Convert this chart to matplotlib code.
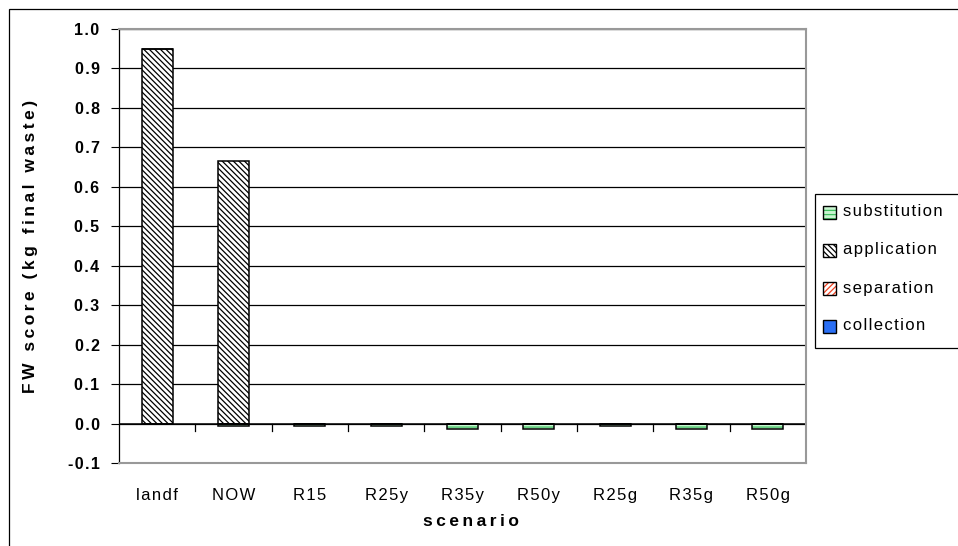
import matplotlib
matplotlib.use("Agg")
import matplotlib.pyplot as plt
import numpy as np
from matplotlib.patches import Rectangle

plt.rcParams['font.family'] = ['Liberation Sans', 'DejaVu Sans']
plt.rcParams['hatch.linewidth'] = 0.9

scenarios = ["landf", "NOW", "R15", "R25y", "R35y", "R50y", "R25g", "R35g", "R50g"]
collection = [0.0, 0.0, 0.0, 0.0, 0.0, 0.0, 0.0, 0.0, 0.0]
separation = [0.0, 0.0, 0.0, 0.0, 0.0, 0.0, 0.0, 0.0, 0.0]
application = [0.95, 0.665, 0.0, 0.0, 0.0, 0.0, 0.0, 0.0, 0.0]
substitution = [0.0, -0.006, -0.006, -0.006, -0.013, -0.013, -0.006, -0.013, -0.013]

series = [
    ("collection", collection, dict(facecolor="#2a6ff5", hatch=None, edgecolor="black")),
    ("separation", separation, dict(facecolor="white", hatch="//////", edgecolor="#f04020")),
    ("application", application, dict(facecolor="white", hatch="\\\\\\\\\\\\", edgecolor="black")),
    ("substitution", substitution, dict(facecolor="#c8f5d0", hatch="----", edgecolor="#40c060")),
]


def spaced(s, sep="\u2009"):
    # widen tracking between letters
    return sep.join(s)


fig = plt.figure(figsize=(9.58, 5.46), dpi=100)
W, H = 958, 546
ax = fig.add_axes([119 / W, 1 - 463 / H, (806 - 119) / W, (463 - 29) / H])

x = np.arange(len(scenarios))
width = 0.41
pos_base = np.zeros(len(x))
neg_base = np.zeros(len(x))
for name, vals, st in series:
    v = np.array(vals)
    base = np.where(v >= 0, pos_base, neg_base)
    ax.bar(x, v, width, bottom=base, facecolor=st["facecolor"], hatch=st["hatch"],
           edgecolor=st["edgecolor"], linewidth=0, zorder=3)
    ax.bar(x, v, width, bottom=base, facecolor="none", edgecolor="black",
           linewidth=1.1, zorder=4)
    pos_base += np.where(v >= 0, v, 0)
    neg_base += np.where(v < 0, v, 0)

yt = np.round(np.arange(-0.1, 1.01, 0.1), 1)
ax.set_xlim(-0.5, len(x) - 0.5)
ax.set_ylim(-0.1, 1.0)
ax.set_yticks(yt)
ax.set_yticklabels([spaced(f"{t:.1f}", "\u200a") for t in yt], fontweight="bold", fontsize=11.5)
ax.yaxis.grid(True, color="black", linewidth=0.9, zorder=1)
ax.set_axisbelow(True)

ax.set_xticks(x)
ax.set_xticklabels([spaced(s, "\u200a") for s in scenarios], fontsize=12)
ax.tick_params(axis="x", length=0, pad=18)
ax.tick_params(axis="y", length=6, direction="out", pad=8)

# category separator ticks hanging below the zero line
for b in np.arange(0.5, len(x) - 0.5, 1.0):
    ax.plot([b, b], [0, -0.018], color="black", linewidth=0.9, zorder=2, clip_on=False)
ax.axhline(0, color="black", linewidth=1.1, zorder=2)

for side in ["top", "right", "bottom"]:
    ax.spines[side].set_color("#999999")
    ax.spines[side].set_linewidth(1.5)
ax.spines["left"].set_color("black")
ax.spines["left"].set_linewidth(0.9)

fig.text(31 / W, 1 - 246 / H, spaced("FW score (kg final waste)"), rotation=90,
         fontweight="bold", fontsize=12.5, ha="center", va="center")
fig.text(471 / W, 1 - 522 / H, spaced("scenario"), fontweight="bold",
         fontsize=12.5, ha="center", va="center")

# legend box
lx0, ly0, lx1, ly1 = 815, 194, 970, 348
fig.patches.append(Rectangle((lx0 / W, 1 - ly1 / H), (lx1 - lx0) / W, (ly1 - ly0) / H,
                             transform=fig.transFigure, facecolor="white",
                             edgecolor="black", linewidth=0.9))
rows = [("substitution", series[3][2]), ("application", series[2][2]),
        ("separation", series[1][2]), ("collection", series[0][2])]
for i, (name, st) in enumerate(rows):
    cy = 213 + i * 38
    fig.patches.append(Rectangle((823 / W, 1 - (cy + 6) / H), 13 / W, 13 / H,
                                 transform=fig.transFigure, facecolor=st["facecolor"],
                                 hatch=st["hatch"], edgecolor=st["edgecolor"], linewidth=0))
    fig.patches.append(Rectangle((823 / W, 1 - (cy + 6) / H), 13 / W, 13 / H,
                                 transform=fig.transFigure, facecolor="none",
                                 edgecolor="black", linewidth=1.0))
    fig.text(843 / W, 1 - (cy - 1) / H, spaced(name, "\u200a"), fontsize=12,
             va="center", ha="left")

# outer chart frame
fig.patches.append(Rectangle((9 / W, -0.1), 1.2, 1 - 9 / H + 0.1,
                             transform=fig.transFigure, facecolor="none",
                             edgecolor="black", linewidth=0.9))

fig.savefig("out.png", dpi=100)
